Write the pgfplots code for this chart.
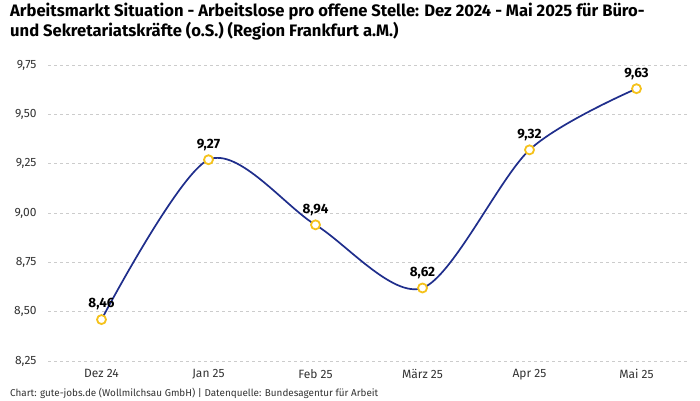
\documentclass[border=0pt]{standalone}
\usepackage{pgfplots}
\pgfplotsset{compat=1.18}
\usepackage{fontspec}
\setmainfont{Fira Sans}

\definecolor{linieblau}{HTML}{1F2E8C}
\definecolor{punktgelb}{HTML}{F5C21B}
\definecolor{tickgrau}{HTML}{333333}
\definecolor{gitter}{HTML}{CCCCCC}

\pgfkeys{/pgf/number format/.cd, fixed, fixed zerofill, precision=2, use comma, assume math mode=true}

\begin{document}
\begin{tikzpicture}
\useasboundingbox[fill=white] (0pt,0pt) rectangle (700pt,400pt);

% Titel
\node[anchor=north west,align=left,inner sep=0pt,font=\bfseries\fontsize{16.6}{20}\selectfont] at (10pt,397pt)
  {Arbeitsmarkt Situation - Arbeitslose pro offene Stelle: Dez 2024 - Mai 2025 für Büro-\\und Sekretariatskräfte (o.S.) (Region Frankfurt a.M.)};

\begin{axis}[
    at={(48pt,39pt)}, anchor=south west,
    scale only axis, width=642pt, height=296pt,
    xmin=-0.5, xmax=5.5,
    ymin=8.25, ymax=9.75,
    ytick={8.25,8.5,8.75,9,9.25,9.5,9.75},
    xtick={0,...,5},
    xticklabels={Dez 24, Jan 25, Feb 25, März 25, Apr 25, Mai 25},
    axis line style={draw=none},
    major tick length=0pt,
    ymajorgrids,
    grid style={gitter, dashed, line width=0.8pt},
    tick label style={font=\fontsize{12}{14}\selectfont, text=tickgrau},
    yticklabel style={xshift=-8pt},
    xticklabel style={yshift=-5pt},
    clip=false,
    nodes near coords,
    nodes near coords style={font=\fontsize{13.5}{16}\selectfont\bfseries, text=black, anchor=south, yshift=5pt},
  ]
  \addplot[linieblau, line width=1.7pt, smooth, tension=0.5,
    mark=*, mark size=4.5pt, mark options={draw=punktgelb, fill=white, line width=1.8pt}]
    coordinates {(0,8.46) (1,9.27) (2,8.94) (3,8.62) (4,9.32) (5,9.63)};
\end{axis}

% Fußzeile
\node[anchor=west,inner sep=0pt,font=\fontsize{9.9}{11}\selectfont, text=tickgrau] at (10pt,7pt)
  {Chart: gute-jobs.de (Wollmilchsau GmbH) | Datenquelle: Bundesagentur für Arbeit};
\end{tikzpicture}
\end{document}
